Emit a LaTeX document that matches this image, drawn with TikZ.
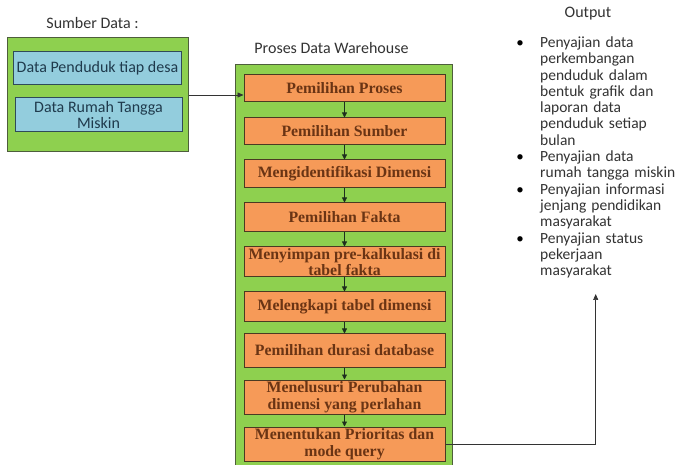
\documentclass[tikz,border=0pt]{standalone}
\usepackage{fontspec}
\setmainfont{Carlito}
\newfontfamily\boxserif{Liberation Serif}
\usetikzlibrary{arrows.meta}
\definecolor{grnfill}{HTML}{8ED04F}
\definecolor{grnline}{HTML}{4E5E3C}
\definecolor{bluefill}{HTML}{93CDDD}
\definecolor{blueline}{HTML}{2F4A58}
\definecolor{bluetext}{HTML}{1F3A4C}
\definecolor{orgfill}{HTML}{F69A58}
\definecolor{orgline}{HTML}{4A3A22}
\definecolor{orgtext}{HTML}{6A3414}
\definecolor{titletext}{HTML}{333333}
\definecolor{arrowcol}{HTML}{1E2E1E}
\tikzset{
  greenbox/.style={draw=grnline, fill=grnfill, line width=1pt, inner sep=0},
  bluebox/.style={draw=blueline, fill=bluefill, line width=1pt, inner sep=0, minimum width=168pt, minimum height=33pt, align=center, text=bluetext, font=\fontsize{16}{16.7}\selectfont},
  orgbox/.style={draw=orgline, fill=orgfill, line width=1pt, inner sep=0, minimum width=201pt, align=center, text=orgtext, font=\boxserif\bfseries\fontsize{15.8}{16.7}\selectfont},
  titlelabel/.style={text=titletext, font=\fontsize{16}{18}\selectfont, inner sep=0},
  outitem/.style={anchor=base west, inner sep=0, text width=150pt, align=left, text=titletext, font=\fontsize{15.5}{16.3}\selectfont},
  bul/.style={anchor=base, inner sep=0, text=black, font=\fontsize{15}{16.3}\selectfont},
  flow/.style={draw=arrowcol, line width=0.8pt, -{Triangle[length=5pt,width=5pt]}},
  feed/.style={draw=black!80, line width=0.7pt, -{Triangle[length=6pt,width=5pt]}}
}
\begin{document}
\begin{tikzpicture}[x=1pt,y=-1pt]
\useasboundingbox (0,0) rectangle (678,465);
\fill[white] (0,0) rectangle (678,465);

% Sources
\node[titlelabel] (srctitle) at (92.5,23) {Sumber Data :};
\node[greenbox, minimum width=181pt, minimum height=114pt] (srcbox) at (97.5,95) {};
\node[bluebox] (b1) at (97.5,68.5) {Data Penduduk tiap desa};
\node[bluebox, minimum width=167pt, minimum height=34pt] (b2) at (98.5,115) {Data Rumah Tangga\\Miskin};

% Process
\node[titlelabel] (proctitle) at (331.5,48) {Proses Data Warehouse};
\node[greenbox, minimum width=217pt, minimum height=405pt] (procbox) at (343.5,267.5) {};
\node[orgbox, minimum height=27pt] (p1) at (344.5,88.5) {Pemilihan Proses};
\node[orgbox, minimum height=27pt] (p2) at (344.5,131.5) {Pemilihan Sumber};
\node[orgbox, minimum height=28pt] (p3) at (344.5,174) {Mengidentifikasi Dimensi};
\node[orgbox, minimum height=29pt] (p4) at (344.5,217.5) {Pemilihan Fakta};
\node[orgbox, minimum height=30pt] (p5) at (344.5,262) {Menyimpan pre-kalkulasi di\\tabel fakta};
\node[orgbox, minimum height=30pt] (p6) at (344.5,307) {Melengkapi tabel dimensi};
\node[orgbox, minimum height=33pt] (p7) at (344.5,350.5) {Pemilihan durasi database};
\node[orgbox, minimum height=34pt] (p8) at (344.5,397) {Menelusuri Perubahan\\dimensi yang perlahan};
\node[orgbox, minimum height=34pt] (p9) at (344.5,444) {Menentukan Prioritas dan\\mode query};

\foreach \a/\b in {p1/p2,p2/p3,p3/p4,p4/p5,p5/p6,p6/p7,p7/p8,p8/p9}
  \draw[flow] (\a.south) -- (\b.north);

\draw[feed] (srcbox.east) -- (srcbox.east -| p1.west);

% Output
\node[titlelabel] (outtitle) at (588,14) {Output};
\node[bul] (d1) at (520,47.5) {\textbullet};
\node[outitem] (o1) at (540,47.5) {Penyajian data\\perkembangan\\penduduk dalam\\bentuk grafik dan\\laporan data\\penduduk setiap\\bulan};
\node[bul] (d2) at (520,161.6) {\textbullet};
\node[outitem] (o2) at (540,161.6) {Penyajian data\\rumah tangga miskin};
\node[bul] (d3) at (520,194.2) {\textbullet};
\node[outitem] (o3) at (540,194.2) {Penyajian informasi\\jenjang pendidikan\\masyarakat};
\node[bul] (d4) at (520,243.1) {\textbullet};
\node[outitem] (o4) at (540,243.1) {Penyajian status\\pekerjaan\\masyarakat};

\coordinate (outtip) at (595.7,294);
\draw[feed] (p9.east) -| (outtip);
\end{tikzpicture}
\end{document}
